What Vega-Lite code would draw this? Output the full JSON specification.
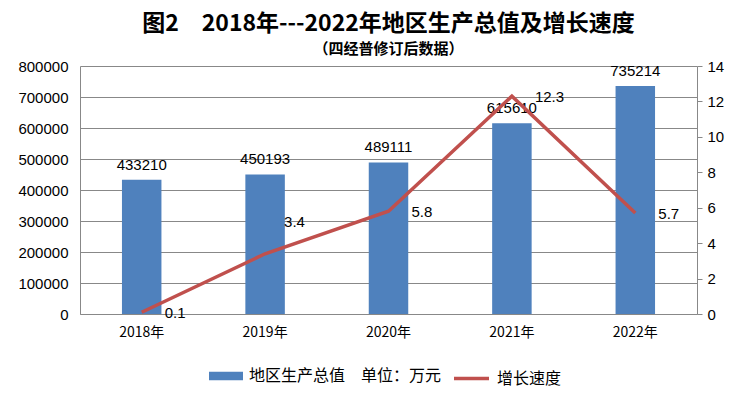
{
  "$schema": "https://vega.github.io/schema/vega-lite/v6.json",
  "width": 617,
  "height": 248,
  "autosize": "none",
  "padding": {"left": 80, "top": 66, "right": 43, "bottom": 90},
  "background": "white",
  "title": {
    "text": "图2　2018年---2022年地区生产总值及增长速度",
    "subtitle": "（四经普修订后数据）",
    "font": "Noto Sans CJK SC",
    "fontSize": 23,
    "fontWeight": "bold",
    "color": "black",
    "subtitleFont": "Noto Sans CJK SC",
    "subtitleFontSize": 15,
    "subtitleFontWeight": "bold",
    "subtitleColor": "black",
    "subtitlePadding": 6,
    "anchor": "middle",
    "frame": "group",
    "offset": 2
  },
  "config": {"view": {"stroke": null}},
  "data": {
    "values": [
      {"year": "2018年", "gdp": 433210, "growth": 0.1, "s1": "地区生产总值　单位：万元", "s2": "增长速度"},
      {"year": "2019年", "gdp": 450193, "growth": 3.4, "s1": "地区生产总值　单位：万元", "s2": "增长速度"},
      {"year": "2020年", "gdp": 489111, "growth": 5.8, "s1": "地区生产总值　单位：万元", "s2": "增长速度"},
      {"year": "2021年", "gdp": 615610, "growth": 12.3, "s1": "地区生产总值　单位：万元", "s2": "增长速度"},
      {"year": "2022年", "gdp": 735214, "growth": 5.7, "s1": "地区生产总值　单位：万元", "s2": "增长速度"}
    ]
  },
  "encoding": {
    "x": {
      "field": "year",
      "type": "nominal",
      "sort": null,
      "scale": {"paddingInner": 0, "paddingOuter": 0},
      "axis": {
        "title": null,
        "labelAngle": 0,
        "ticks": false,
        "domainColor": "#888888",
        "labelFont": "Noto Sans CJK SC",
        "labelFontSize": 14,
        "labelColor": "black",
        "labelPadding": 11
      }
    }
  },
  "layer": [
    {
      "encoding": {
        "y": {
          "field": "gdp",
          "type": "quantitative",
          "scale": {"domain": [0, 800000], "nice": false},
          "axis": {
            "title": null,
            "orient": "left",
            "values": [0, 100000, 200000, 300000, 400000, 500000, 600000, 700000, 800000],
            "format": "d",
            "ticks": false,
            "domainColor": "#888888",
            "gridColor": "#888888",
            "grid": true,
            "labelFont": "Liberation Sans",
            "labelFontSize": 15,
            "labelColor": "black",
            "labelPadding": 12
          }
        }
      },
      "layer": [
        {
          "mark": {"type": "bar", "width": {"band": 0.32}},
          "encoding": {
            "fill": {
              "field": "s1",
              "type": "nominal",
              "scale": {"range": ["#4F81BD"]},
              "legend": {
                "title": null,
                "orient": "none",
                "legendX": 129,
                "legendY": 293,
                "padding": 0,
                "symbolType": "M-1,-0.25H1V0.25H-1Z",
                "symbolSize": 1156,
                "symbolStrokeWidth": 0,
                "labelOffset": 6,
                "labelLimit": 400,
                "labelFont": "Noto Sans CJK SC",
                "labelFontSize": 16,
                "labelColor": "black"
              }
            }
          }
        },
        {
          "mark": {"type": "text", "baseline": "bottom", "dy": -7, "font": "Liberation Sans", "fontSize": 15, "color": "black"},
          "encoding": {"text": {"field": "gdp", "type": "quantitative", "format": "d"}}
        }
      ]
    },
    {
      "encoding": {
        "y": {
          "field": "growth",
          "type": "quantitative",
          "scale": {"domain": [0, 14], "nice": false},
          "axis": {
            "title": null,
            "orient": "right",
            "values": [0, 2, 4, 6, 8, 10, 12, 14],
            "grid": false,
            "ticks": true,
            "tickSize": 5,
            "tickColor": "#888888",
            "domainColor": "#888888",
            "labelFont": "Liberation Sans",
            "labelFontSize": 15,
            "labelColor": "black",
            "labelPadding": 5
          }
        }
      },
      "layer": [
        {
          "mark": {"type": "line", "strokeWidth": 3.5},
          "encoding": {
            "stroke": {
              "field": "s2",
              "type": "nominal",
              "scale": {"range": ["#C0504D"]},
              "legend": {
                "title": null,
                "orient": "none",
                "legendX": 372,
                "legendY": 293,
                "padding": 0,
                "symbolType": "stroke",
                "symbolSize": 1225,
                "symbolStrokeWidth": 3.5,
                "labelOffset": 6,
                "labelFont": "Noto Sans CJK SC",
                "labelFontSize": 16,
                "labelColor": "black"
              }
            }
          }
        },
        {
          "transform": [{"filter": "datum.year !== '2019年'"}],
          "mark": {"type": "text", "align": "left", "baseline": "middle", "dx": 23, "dy": 1, "font": "Liberation Sans", "fontSize": 15, "color": "black"},
          "encoding": {"text": {"field": "growth", "type": "quantitative", "format": ".1f"}}
        },
        {
          "transform": [{"filter": "datum.year === '2019年'"}],
          "mark": {"type": "text", "align": "left", "baseline": "middle", "dx": 19, "dy": -32, "font": "Liberation Sans", "fontSize": 15, "color": "black"},
          "encoding": {"text": {"field": "growth", "type": "quantitative", "format": ".1f"}}
        }
      ]
    }
  ],
  "resolve": {"scale": {"y": "independent", "fill": "independent", "stroke": "independent"}}
}
